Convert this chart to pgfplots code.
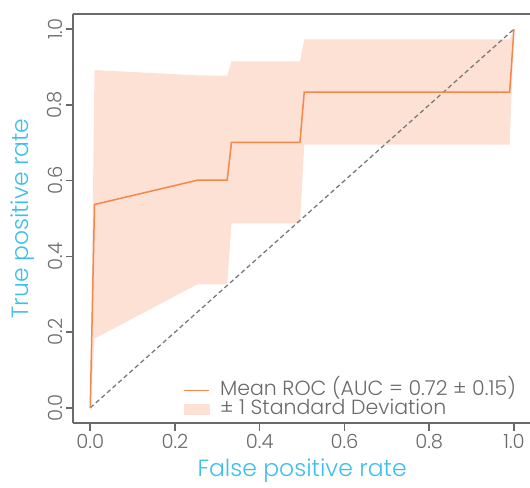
\documentclass[border=0pt]{standalone}
\usepackage{pgfplots}
\pgfplotsset{compat=1.18}
\usepackage{fontspec}
\setmainfont{Poppins Light}
\definecolor{rocOrange}{HTML}{F5874A}
\definecolor{rocBand}{HTML}{FCE1D4}
\definecolor{spineGray}{HTML}{6A6A6A}
\definecolor{labelCyan}{HTML}{3DBEEE}
\definecolor{diagGray}{HTML}{7A7A7A}
\pgfplotsset{shortline/.style={legend image code/.code={\draw[##1] (0pt,0pt) -- (25pt,0pt);}}}

\begin{document}
\begin{tikzpicture}
\begin{axis}[
  name=ax, scale only axis, width=457.6pt, height=409pt,
  xmin=-0.04, xmax=1.04, ymin=-0.04, ymax=1.04,
  axis x line*=box, axis y line*=left,
  xtick={0,0.2,0.4,0.6,0.8,1.0}, ytick={0,0.2,0.4,0.6,0.8,1.0},
  xtick pos=left, ytick pos=left,
  axis line style={spineGray, line width=1.7pt},
  tick style={spineGray, line width=1.5pt}, tick align=outside, major tick length=7.5pt,
  /pgf/number format/assume math mode=true,
  xticklabel={\pgfmathprintnumber[fixed,fixed zerofill,precision=1]{\tick}},
  yticklabel={\pgfmathprintnumber[fixed,fixed zerofill,precision=1]{\tick}},
  ticklabel style={font=\fontsize{19.5}{19.5}\selectfont, text=spineGray},
  yticklabel style={rotate=90, anchor=south},
  xlabel={False positive rate}, ylabel={True positive rate},
  xlabel style={at={(axis description cs:0.5,-0.132)}, anchor=base, font=\fontsize{23.5}{23.5}\selectfont, text=labelCyan},
  ylabel style={at={(axis description cs:-0.0983,0.5)}, anchor=base, font=\fontsize{23.5}{23.5}\selectfont, text=labelCyan},
  legend style={at={(axis cs:1.005,-0.03)}, anchor=south east, draw=none, fill=none, inner sep=0pt,
    font=\fontsize{20.5}{20.5}\selectfont, text=spineGray, row sep=0pt, column sep=10pt,
    nodes={inner sep=0pt, text height=14pt, text depth=5pt}},
  legend cell align=left,
]
% +/- 1 std band
\addplot[fill=rocBand, draw=none, forget plot] coordinates {
  (0,0) (0.0101,0.892) (0.2525,0.878) (0.3232,0.877) (0.3333,0.915) (0.4949,0.915)
  (0.5051,0.973) (0.9899,0.973) (1.0,1.0)
  (0.9899,0.695) (0.5051,0.695) (0.4949,0.487) (0.3333,0.487) (0.3232,0.326)
  (0.2525,0.326) (0.0101,0.183) (0,0)};
% chance line
\addplot[diagGray, line width=1.3pt, dash pattern=on 4.5pt off 3pt, forget plot] coordinates {(0,0) (1,1)};
% mean roc
\addplot[rocOrange, line width=1.5pt, shortline] coordinates {
  (0,0) (0.0101,0.537) (0.2525,0.601) (0.3232,0.601) (0.3333,0.701) (0.4949,0.701)
  (0.5051,0.834) (0.9899,0.834) (1.0,1.0)};
\addlegendentry{Mean ROC (AUC = 0.72 ± 0.15)}
\addlegendimage{area legend, fill=rocBand, draw=none, legend image code/.code={\fill[rocBand] (0pt,-5.5pt) rectangle (26pt,5.5pt);}}
\addlegendentry{± 1 Standard Deviation}
\end{axis}
\pgfresetboundingbox
\path[use as bounding box] ([xshift=-73.3pt,yshift=-64.2pt]ax.south west) rectangle ([xshift=456.7pt,yshift=14pt]ax.north west);
\end{tikzpicture}
\end{document}
